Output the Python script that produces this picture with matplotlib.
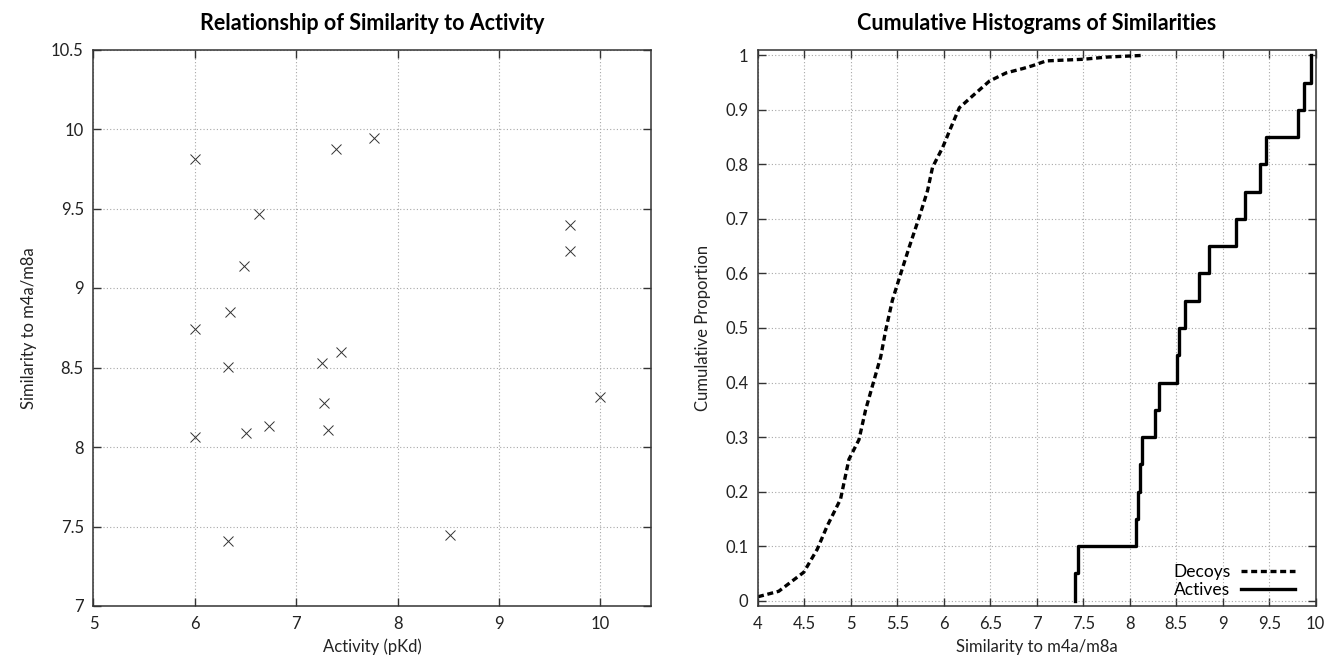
import numpy as np
import matplotlib
matplotlib.use("Agg")
import matplotlib.pyplot as plt

plt.rcParams['font.family'] = ['Lato', 'DejaVu Sans']

# scatter: activity vs similarity (actives)
activity = [6.00, 7.39, 7.77, 6.63, 9.70, 9.70, 6.48, 6.35, 6.00, 6.33,
            7.25, 7.44, 10.00, 7.27, 6.73, 6.50, 7.31, 6.00, 6.33, 8.52]
similarity = [9.81, 9.874, 9.945, 9.468, 9.396, 9.235, 9.138, 8.847, 8.744, 8.504,
              8.528, 8.597, 8.314, 8.276, 8.129, 8.089, 8.110, 8.064, 7.41, 7.445]

# decoys cumulative curve
decoy_x = [4.0, 4.223, 4.493, 4.637, 4.745, 4.888, 4.978, 5.086, 5.158, 5.248,
           5.32, 5.374, 5.446, 5.536, 5.626, 5.734, 5.824, 5.878, 5.986, 6.076,
           6.166, 6.31, 6.49, 6.67, 6.85, 6.95, 7.0, 7.1, 7.5, 7.75, 8.0, 8.13]
decoy_y = [0.007, 0.017, 0.052, 0.094, 0.137, 0.186, 0.259, 0.295, 0.35, 0.404,
           0.447, 0.496, 0.551, 0.6, 0.648, 0.703, 0.752, 0.795, 0.831, 0.868,
           0.904, 0.926, 0.953, 0.968, 0.976, 0.981, 0.984, 0.99, 0.993, 0.997, 0.999, 1.0]

W, H = 1329, 662
fig = plt.figure(figsize=(W / 100, H / 100), dpi=100)

frame = '#333333'
txt = '#222222'
fs = 12
grid = dict(color='#a8a8a8', linestyle=(0, (1, 2)), linewidth=0.8)


def style(ax):
    for s in ax.spines.values():
        s.set_color(frame)
        s.set_linewidth(1.1)
    ax.tick_params(direction='in', length=6, width=1, color=frame,
                   top=True, right=True, labelsize=fs, labelcolor=txt, pad=7)
    ax.grid(True, **grid)
    ax.set_axisbelow(True)


# left panel
ax1 = fig.add_axes([93.5 / W, (H - 606) / H, 557.5 / W, 556.5 / H])
ax1.plot(activity, similarity, 'x', color='#333333', markersize=7, markeredgewidth=0.7)
ax1.set_xlim(5, 10.5)
ax1.set_ylim(7, 10.5)
ax1.set_xticks([5, 6, 7, 8, 9, 10])
ax1.set_xticklabels(['5', '6', '7', '8', '9', '10'])
ax1.set_yticks([7, 7.5, 8, 8.5, 9, 9.5, 10, 10.5])
ax1.set_yticklabels(['7', '7.5', '8', '8.5', '9', '9.5', '10', '10.5'])
style(ax1)
ax1.set_xlabel('Activity (pKd)', fontsize=fs, color=txt, labelpad=5)
ax1.set_ylabel('Similarity to m4a/m8a', fontsize=fs, color=txt, labelpad=10)
fig.text((93.5 + 651) / 2 / W, 1 - 23 / H, 'Relationship of Similarity to Activity',
         ha='center', va='center', fontsize=15.5, fontweight='bold')

# right panel
ax2 = fig.add_axes([758 / W, (H - 606) / H, 557.7 / W, 556 / H])
act_sorted = np.sort(similarity)
n = len(act_sorted)
steps_x = np.concatenate([[act_sorted[0]], act_sorted])
steps_y = np.concatenate([[0.0], np.arange(1, n + 1) / n])
ax2.plot(decoy_x, decoy_y, color='black', linewidth=2.4, linestyle=(0, (1.8, 1.1)),
         label='Decoys')
ax2.step(steps_x, steps_y, where='post', color='black', linewidth=2.4, label='Actives')
ax2.set_xlim(4, 10)
ax2.set_ylim(-0.01, 1.01)
xt = np.arange(4, 10.01, 0.5)
ax2.set_xticks(xt)
ax2.set_xticklabels(['%g' % v for v in xt])
yt = np.round(np.arange(0, 1.01, 0.1), 1)
ax2.set_yticks(yt)
ax2.set_yticklabels(['%g' % v for v in yt])
style(ax2)
ax2.set_xlabel('Similarity to m4a/m8a', fontsize=fs, color=txt, labelpad=5)
ax2.set_ylabel('Cumulative Proportion', fontsize=fs, color=txt, labelpad=10)
ax2.legend(loc='lower right', bbox_to_anchor=(0.962, 0.014), frameon=False,
           markerfirst=False, fontsize=12.5, handlelength=3.1, handletextpad=0.6,
           labelspacing=0.12, borderpad=0, borderaxespad=0)
fig.text((758 + 1315.7) / 2 / W, 1 - 23 / H, 'Cumulative Histograms of Similarities',
         ha='center', va='center', fontsize=15.5, fontweight='bold')

fig.savefig('out.png', dpi=100)
